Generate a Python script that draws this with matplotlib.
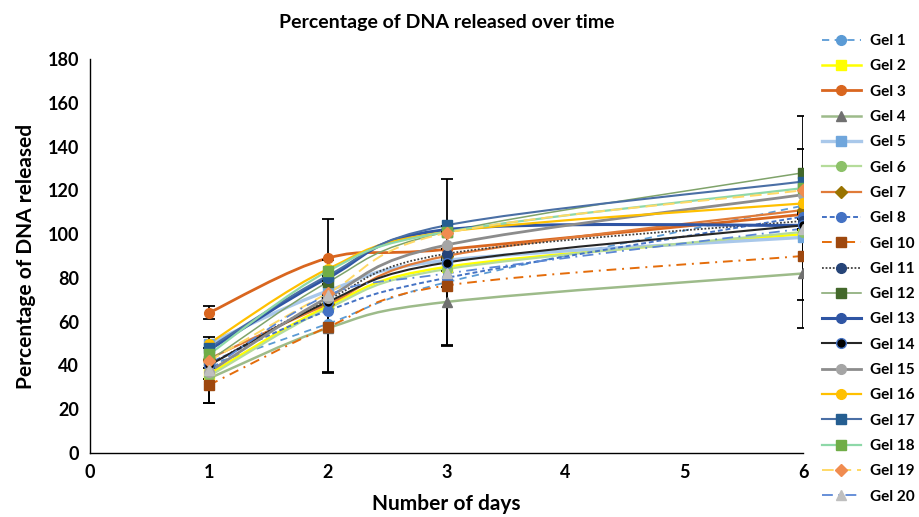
import numpy as np
import matplotlib.pyplot as plt
from matplotlib.path import Path
from matplotlib.patches import PathPatch
from matplotlib.lines import Line2D

plt.rcParams['font.family'] = ['Lato', 'DejaVu Sans']
plt.rcParams['font.weight'] = 'bold'

days = [1, 2, 3, 6]
gels = ['Gel 1', 'Gel 2', 'Gel 3', 'Gel 4', 'Gel 5', 'Gel 6', 'Gel 7', 'Gel 8',
        'Gel 10', 'Gel 11', 'Gel 12', 'Gel 13', 'Gel 14', 'Gel 15', 'Gel 16',
        'Gel 17', 'Gel 18', 'Gel 19', 'Gel 20']

# percentage released per gel at days 1, 2, 3, 6
gel1 = [40, 59, 78, 113]
gel2 = [36, 67, 85, 100]
gel3 = [64, 89, 93, 109]
gel4 = [34, 57, 69, 82]
gel5 = [50, 74, 88, 98.5]
gel6 = [35, 66, 84, 101]
gel7 = [43, 68, 90, 111]
gel8 = [41, 65, 80, 108]
gel10 = [31, 57.5, 76.5, 90]
gel11 = [40, 70, 91, 106]
gel12 = [42, 78, 101, 128]
gel13 = [47, 80, 102, 104]
gel14 = [40, 69, 87, 104]
gel15 = [37, 71, 95, 118]
gel16 = [50, 84, 101, 114]
gel17 = [48, 81, 104, 124]
gel18 = [45, 83, 101, 121]
gel19 = [42, 73, 100.5, 120]
gel20 = [38, 72, 82, 102.5]

# error bar half-widths at days 1, 2, 3, 6
err1 = [0, 0, 0, 0]
err2 = [0, 0, 0, 0]
err3 = [3, 18, 0, 0]
err4 = [0, 20, 20, 25]
err5 = [0, 0, 0, 0]
err6 = [0, 0, 0, 0]
err7 = [0, 0, 0, 0]
err8 = [0, 0, 0, 0]
err10 = [8, 21, 27, 20]
err11 = [0, 0, 0, 0]
err12 = [0, 10, 0, 26]
err13 = [0, 0, 0, 0]
err14 = [0, 0, 0, 0]
err15 = [0, 0, 0, 0]
err16 = [0, 0, 0, 0]
err17 = [0, 0, 21, 15]
err18 = [0, 0, 0, 0]
err19 = [0, 0, 0, 0]
err20 = [15, 0, 6, 0]

values = [gel1, gel2, gel3, gel4, gel5, gel6, gel7, gel8, gel10, gel11, gel12,
          gel13, gel14, gel15, gel16, gel17, gel18, gel19, gel20]
errors = [err1, err2, err3, err4, err5, err6, err7, err8, err10, err11, err12,
          err13, err14, err15, err16, err17, err18, err19, err20]

# line colour, line style, line width, marker, marker face, marker edge
styles = [
    ('#5B9BD5', (0, (4, 3)), 1.3, 'o', '#5B9BD5', '#5B9BD5'),
    ('#FFFF00', '-', 1.8, 's', '#FFFF00', '#FFFF00'),
    ('#D9661F', '-', 2.0, 'o', '#D9661F', '#D9661F'),
    ('#9DBB8A', '-', 1.8, '^', '#707070', '#707070'),
    ('#A9C8EA', '-', 2.4, 's', '#70A6DC', '#70A6DC'),
    ('#B5DC9A', '-', 1.6, 'o', '#8CC168', '#8CC168'),
    ('#E07B39', '-', 1.6, 'D', '#997300', '#997300'),
    ('#4472C4', (0, (2.5, 1.5)), 1.4, 'o', '#4472C4', '#4472C4'),
    ('#E46C0A', (0, (5, 3, 1, 3)), 1.4, 's', '#9E480E', '#9E480E'),
    ('#404040', (0, (1, 1)), 1.3, 'o', '#264478', '#264478'),
    ('#7FA36A', '-', 1.1, 's', '#43682B', '#43682B'),
    ('#2F55A4', '-', 2.2, 'o', '#2F55A4', '#2F55A4'),
    ('#262626', '-', 1.5, 'o', '#000000', '#4472C4'),
    ('#8C8C8C', '-', 2.0, 'o', '#A5A5A5', '#A5A5A5'),
    ('#FFC000', '-', 1.6, 'o', '#FFC000', '#FFC000'),
    ('#4A6FA5', '-', 1.5, 's', '#255E91', '#255E91'),
    ('#8ED8A8', '-', 1.6, 's', '#70AD47', '#70AD47'),
    ('#FFD966', (0, (6, 3)), 1.4, 'D', '#F08C50', '#F08C50'),
    ('#5B87D5', (0, (6, 3, 1, 3)), 1.3, '^', '#BFBFBF', '#BFBFBF'),
]


def smooth_path(x, y):
    # Excel-like smoothed line: Catmull-Rom segments as cubic Beziers
    pts = np.column_stack([x, y]).astype(float)
    ext = np.vstack([pts[0], pts, pts[-1]])
    verts = [pts[0]]
    codes = [Path.MOVETO]
    for i in range(len(pts) - 1):
        p0, p1, p2, p3 = ext[i], ext[i + 1], ext[i + 2], ext[i + 3]
        verts += [p1 + (p2 - p0) / 6, p2 - (p3 - p1) / 6, p2]
        codes += [Path.CURVE4] * 3
    return Path(verts, codes)


fig = plt.figure(figsize=(9.2, 5.17), dpi=100)
ax = fig.add_axes([0.0978, 0.1238, 0.7752, 0.7622])

handles = []
for vals, errs, (lc, ls, lw, mk, mf, me) in zip(values, errors, styles):
    patch = PathPatch(smooth_path(days, vals), fill=False, edgecolor=lc,
                      linestyle=ls, linewidth=lw, zorder=2)
    ax.add_patch(patch)
    if any(errs):
        e = np.array(errs, dtype=float)
        ax.errorbar(days, vals, yerr=e, fmt='none', ecolor='black',
                    elinewidth=1.3, capsize=4, capthick=1.3, zorder=3)
    ms = 7 if mk != 'D' else 6
    ax.plot(days, vals, linestyle='none', marker=mk, markersize=ms,
            markerfacecolor=mf, markeredgecolor=me, zorder=4)
    handles.append(Line2D([], [], color=lc, linestyle=ls, linewidth=lw, marker=mk,
                          markersize=ms, markerfacecolor=mf, markeredgecolor=me))

ax.set_xlim(0, 6)
ax.set_ylim(0, 180)
ax.set_xticks(range(0, 7))
ax.set_yticks(range(0, 181, 20))
ax.tick_params(length=0, labelsize=13, pad=8)
for lbl in ax.get_xticklabels() + ax.get_yticklabels():
    lbl.set_fontweight('bold')
for side in ['top', 'right']:
    ax.spines[side].set_visible(False)
for side in ['left', 'bottom']:
    ax.spines[side].set_color('black')
    ax.spines[side].set_linewidth(1.0)

ax.set_title('Percentage of DNA released over time', fontsize=14,
             fontweight='bold', pad=22)
ax.set_xlabel('Number of days', fontsize=15, fontweight='bold', labelpad=9)
ax.set_ylabel('Percentage of DNA released', fontsize=15, fontweight='bold',
              labelpad=8)

leg = fig.legend(handles, gels, loc='upper left', bbox_to_anchor=(0.893, 0.934),
                 frameon=False, fontsize=11, handlelength=2.6, labelspacing=0.74,
                 handletextpad=0.6, borderaxespad=0, borderpad=0)
for t in leg.get_texts():
    t.set_fontweight('bold')

fig.savefig('out.png', dpi=100)
